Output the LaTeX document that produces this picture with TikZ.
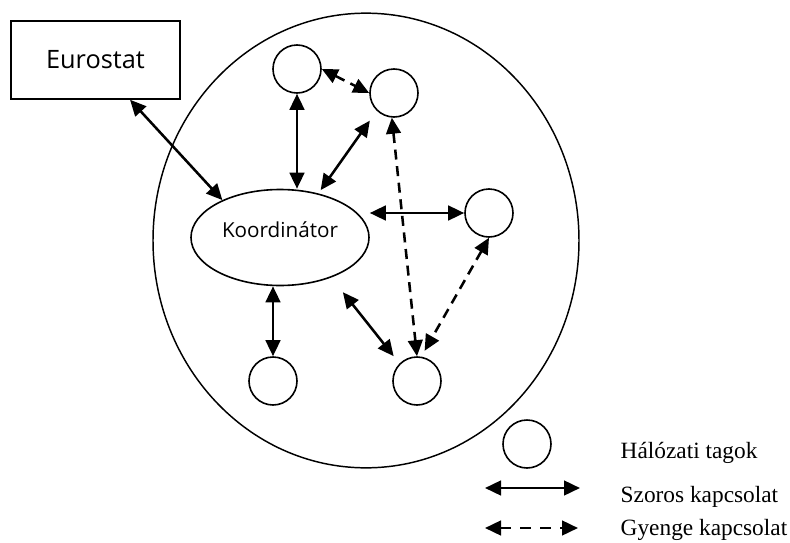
\documentclass[tikz,border=0pt]{standalone}
\usepackage{fontspec}
\setmainfont{Liberation Serif}
\newfontfamily\osans{Open Sans}
\usetikzlibrary{arrows.meta,positioning,shapes}

\begin{document}
\begin{tikzpicture}[x=0.75pt,y=-0.75pt,
  member/.style={draw,circle,line width=1.2pt,minimum size=36pt,inner sep=0pt},
  strong/.style={arrows={Triangle[length=12pt,width=11pt]-Triangle[length=12pt,width=11pt]},line width=1.9pt},
  weak/.style={strong,dash pattern=on 7.5pt off 5pt},
  legtext/.style={anchor=base west,font=\fontsize{17.5}{20}\selectfont}]
\useasboundingbox (0,0) rectangle (790,543);
\node[draw,ellipse,line width=1.1pt,minimum width=319.5pt,minimum height=341pt] (net) at (366,240.5) {};
\node[draw,line width=1.1pt,minimum width=126.75pt,minimum height=58.5pt,font=\osans\fontsize{19}{22}\selectfont] (eu) at (95.5,60) {Eurostat};
\node[draw,ellipse,line width=1.2pt,minimum width=133.5pt,minimum height=72pt,inner sep=0pt,text height=8pt,text depth=8pt,font=\osans\fontsize{15.5}{18}\selectfont] (koord) at (280,237.5) {Koordinátor};
\node[member] (m1) at (297,69) {};
\node[member] (m2) at (394,93) {};
\node[member] (m3) at (489,213) {};
\node[member] (m4) at (273,381) {};
\node[member] (m5) at (417,381) {};
% connections
\draw[strong] (eu.-49) -- (koord.147);
\draw[strong] (m1.south) -- (m1.south |- koord.north);
\draw[strong,shorten <=9pt,shorten >=3pt] (m2.226) -- (koord.49);
\draw[weak] (m1.east) -- (m2.west);
\draw[strong] (m3.west) -- (m3.west -| koord.east);
\draw[weak] (m2.265) -- (m5.north);
\draw[weak,shorten >=5pt] (m3.south) -- (m5.80);
\draw[strong] (m4.north) -- (m4.north |- koord.south);
\draw[strong,shorten <=14pt,shorten >=7pt] (koord.-38) -- (m5.135);
% legend
\node[member] (legm) at (527,444) {};
\node[legtext] (t1) at (616,458) {Hálózati tagok};
\node[legtext] (t2) at (616,502) {Szoros kapcsolat};
\node[legtext] (t3) at (616,535) {Gyenge kapcsolat};
\coordinate (s1) at (485,488);
\coordinate (s2) at (580,488);
\draw[strong] (s1) -- (s2);
\coordinate (w1) at (485,528);
\coordinate (w2) at (578,528);
\draw[weak,dash pattern=on 8pt off 7pt] (w1) -- (w2);
\end{tikzpicture}
\end{document}
